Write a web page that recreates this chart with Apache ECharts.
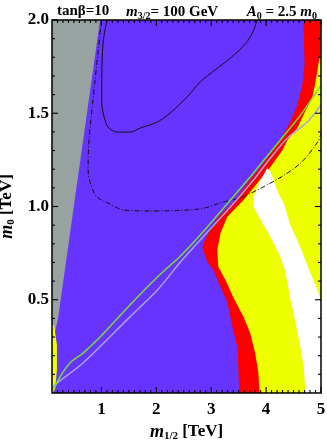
<!DOCTYPE html>
<html>
<head>
<meta charset="utf-8" />
<script src="https://cdn.jsdelivr.net/npm/echarts@6/dist/echarts.min.js"></script>
<style>
  html, body { margin: 0; padding: 0; background: #fff; }
  #chart { width: 327px; height: 441px; }
</style>
</head>
<body>
<div id="chart"></div>
<script>
// axis range and ticks
var xRange = [0.1, 5];
var yRange = [0, 2];
var xMajor = [1, 2, 3, 4, 5];
var yMajor = [0.5, 1.0, 1.5, 2.0];

// shaded regions, [m1/2, m0] in TeV
var purpleArea = [[0.1, 0], [5, 0], [5, 2], [0.1, 2]];
var grayArea = [[0.1, 2.0], [0.976, 2.0], [0.21, 0.40], [0.155, 0.327], [0.1, 0.327]];
var yellowLeft = [[0.1, 0.365], [0.137, 0.365], [0.19, 0.257], [0.19, 0.123], [0.155, 0.016], [0.1, 0]];
var redArea = [[4.68, 2.0], [4.70, 1.759], [4.66, 1.651], [4.57, 1.544], [4.44, 1.453], [4.26, 1.357],
  [4.13, 1.303], [3.90, 1.212], [3.66, 1.126], [3.44, 1.035], [3.13, 0.944], [2.95, 0.858], [2.86, 0.804],
  [2.84, 0.777], [2.93, 0.702], [3.04, 0.660], [3.13, 0.595], [3.29, 0.488], [3.38, 0.365], [3.48, 0.241],
  [3.51, 0], [5, 0], [5, 2]];
var yellowRight = [[5, 1.83], [4.95, 1.759], [4.90, 1.668], [4.84, 1.582], [4.68, 1.491], [4.57, 1.421],
  [4.39, 1.357], [4.30, 1.303], [4.08, 1.212], [3.84, 1.126], [3.59, 1.035], [3.29, 0.944], [3.17, 0.858],
  [3.11, 0.767], [3.13, 0.676], [3.26, 0.606], [3.40, 0.515], [3.59, 0.408], [3.71, 0.322], [3.80, 0.214],
  [3.86, 0.107], [3.88, 0], [5, 0]];
var whiteArea = [[4.02, 1.206], [3.84, 1.105], [3.77, 1.051], [3.77, 0.997], [3.90, 0.928], [4.08, 0.836],
  [4.26, 0.729], [4.35, 0.649], [4.44, 0.509], [4.57, 0.327], [4.68, 0.150], [4.72, 0], [5, 0], [5, 0.499],
  [4.90, 0.579], [4.77, 0.670], [4.63, 0.777], [4.44, 0.901], [4.32, 1.019], [4.22, 1.072], [4.08, 1.185]];

// contour lines
var blackSolid = [[1.10, 2.0], [1.03, 1.877], [1.007, 1.694], [1.007, 1.555], [1.05, 1.480], [1.12, 1.426],
  [1.29, 1.399], [1.52, 1.399], [1.71, 1.421], [2.02, 1.453], [2.25, 1.501], [2.56, 1.587], [2.80, 1.668],
  [3.07, 1.732], [3.35, 1.796], [3.62, 1.871], [3.75, 1.930], [3.84, 2.0]];
var blackDashDot = [[1.00, 2.0], [0.885, 1.678], [0.775, 1.357], [0.757, 1.196], [0.81, 1.115], [0.92, 1.051],
  [1.16, 1.013], [1.40, 0.981], [1.89, 0.976], [2.80, 0.987], [3.22, 1.024], [3.53, 1.046], [4.21, 1.147],
  [4.63, 1.233], [4.94, 1.346], [5.0, 1.39]];
var greenLine = [[0.118, 0.011], [0.246, 0.086], [0.428, 0.161], [0.666, 0.214], [0.976, 0.300], [1.52, 0.472],
  [2.02, 0.622], [2.44, 0.735], [2.80, 0.847], [3.35, 1.035], [3.77, 1.180], [4.26, 1.357], [4.63, 1.491],
  [5.0, 1.651]];
var lavenderLine = [[0.1, 0.027], [0.19, 0.054], [0.666, 0.161], [1.52, 0.408], [2.02, 0.552], [2.44, 0.702],
  [2.80, 0.820], [3.35, 0.997], [3.77, 1.142], [4.08, 1.260], [4.39, 1.367], [4.75, 1.453], [5.0, 1.544]];

var serif = "'Liberation Serif', 'DejaVu Serif', serif";

var xMinor = [], yMinor = [];
for (var i = 2; i < 50; i++) if (i % 10 != 0) xMinor.push(i / 10);
for (var j = 1; j < 20; j++) if (j % 5 != 0) yMinor.push(j / 10);

function area(pts, color) {
  return {
    type: 'custom', data: pts, silent: true, clip: true, z: 1,
    renderItem: function (params, api) {
      if (params.dataIndex !== 0) return;
      var points = pts.map(function (p) { return api.coord(p); });
      return { type: 'polygon', shape: { points: points }, style: { fill: color } };
    }
  };
}

function line(pts, color, width, dash) {
  return {
    type: 'line', data: pts, showSymbol: false, smooth: 0.3, silent: true, z: 2,
    lineStyle: { color: color, width: width, type: dash || 'solid' }
  };
}

// black box with inward ticks on all four sides
function frame() {
  return {
    type: 'custom', data: [[xRange[0], yRange[0]]], silent: true, clip: false, z: 50,
    renderItem: function (params, api) {
      var bl = api.coord([xRange[0], yRange[0]]);
      var tr = api.coord([xRange[1], yRange[1]]);
      var kids = [];
      function seg(x1, y1, x2, y2, w) {
        kids.push({ type: 'line', shape: { x1: x1, y1: y1, x2: x2, y2: y2 }, style: { stroke: '#000', lineWidth: w } });
      }
      xMajor.concat(xMinor).forEach(function (v) {
        var len = xMajor.indexOf(v) >= 0 ? 6 : 3;
        var px = api.coord([v, yRange[0]])[0];
        seg(px, bl[1], px, bl[1] - len, 1.1);
        seg(px, tr[1], px, tr[1] + len, 1.1);
      });
      yMajor.concat(yMinor).forEach(function (v) {
        var len = yMajor.indexOf(v) >= 0 ? 6 : 3;
        var py = api.coord([xRange[0], v])[1];
        seg(bl[0], py, bl[0] + len, py, 1.1);
        seg(tr[0], py, tr[0] - len, py, 1.1);
      });
      kids.push({ type: 'rect', shape: { x: bl[0], y: tr[1], width: tr[0] - bl[0], height: bl[1] - tr[1] },
        style: { fill: 'none', stroke: '#000', lineWidth: 1.5 } });
      return { type: 'group', children: kids };
    }
  };
}

var nameRich = {
  m: { fontFamily: serif, fontStyle: 'italic', fontWeight: 'bold', fontSize: 18, color: '#000' },
  s: { fontFamily: serif, fontWeight: 'bold', fontSize: 11, color: '#000', verticalAlign: 'bottom', padding: [9, 0, 0, 0] },
  n: { fontFamily: serif, fontWeight: 'bold', fontSize: 17, color: '#000' }
};

var chart = echarts.init(document.getElementById('chart'));
chart.setOption({
  animation: false,
  backgroundColor: '#fff',
  title: [
    { text: '{t|tanβ=10}', left: 52, top: -1, textStyle: { rich: titleRich() } },
    { text: '{i|m}{s|3/2}{t|= 100 GeV}', left: 121, top: -1, textStyle: { rich: titleRich() } },
    { text: '{i|A}{s|0}{t| = 2.5 }{i|m}{s|0}', right: 5, top: -1, textStyle: { rich: titleRich() } }
  ],
  grid: { left: 52, right: 6, top: 20, bottom: 48, outerBoundsMode: 'none', containLabel: false },
  xAxis: {
    type: 'value', min: xRange[0], max: xRange[1],
    axisLine: { show: false }, axisTick: { show: false }, splitLine: { show: false },
    axisLabel: { customValues: xMajor, margin: 8, fontFamily: serif, fontWeight: 'bold', fontSize: 17, color: '#000' },
    name: '{m|m}{s|1/2}{n| [TeV]}', nameLocation: 'middle', nameGap: 21,
    nameTextStyle: { rich: nameRich }
  },
  yAxis: {
    type: 'value', min: yRange[0], max: yRange[1],
    axisLine: { show: false }, axisTick: { show: false }, splitLine: { show: false },
    axisLabel: {
      customValues: yMajor, margin: 3, fontFamily: serif, fontWeight: 'bold', fontSize: 17, color: '#000',
      formatter: function (v) { return v.toFixed(1); }
    },
    name: '{m|m}{s|0}{n| [TeV]}', nameLocation: 'middle', nameGap: 24, nameRotate: 90,
    nameTextStyle: { rich: nameRich }
  },
  series: [
    area(purpleArea, '#6633ff'),
    area(grayArea, '#98a3a1'),
    area(yellowLeft, '#eeff00'),
    area(redArea, '#ff0000'),
    area(yellowRight, '#eeff00'),
    area(whiteArea, '#ffffff'),
    line(blackSolid, '#111', 1),
    line(blackDashDot, '#111', 1, [5, 2, 1, 2]),
    line(lavenderLine, '#a9a3d6', 1.5),
    line(greenLine, '#77dd33', 1.5),
    frame()
  ]
});

function titleRich() {
  return {
    t: { fontFamily: serif, fontWeight: 'bold', fontSize: 15, color: '#000' },
    i: { fontFamily: serif, fontStyle: 'italic', fontWeight: 'bold', fontSize: 15, color: '#000' },
    s: { fontFamily: serif, fontWeight: 'bold', fontSize: 10, color: '#000', verticalAlign: 'bottom', padding: [7, 0, 0, 0] }
  };
}
</script>
</body>
</html>
